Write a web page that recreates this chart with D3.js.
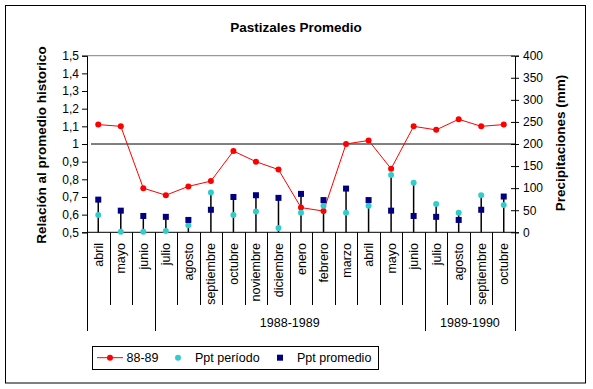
<!DOCTYPE html>
<html>
<head>
<meta charset="utf-8">
<script src="https://cdn.jsdelivr.net/npm/d3@7"></script>
<style>
  body { margin: 0; background: #fff; }
  text { font-family: Arial, "Liberation Sans", sans-serif; }
</style>
</head>
<body>
<script>
const width = 593
const height = 389

const months = ["abril", "mayo", "junio", "julio", "agosto", "septiembre", "octubre", "noviembre", "diciembre",
  "enero", "febrero", "marzo", "abril", "mayo", "junio", "julio", "agosto", "septiembre", "octubre"]
const groups = [{label: "", from: 0, to: 3}, {label: "1988-1989", from: 3, to: 15}, {label: "1989-1990", from: 15, to: 19}]
const relacion = [1.11, 1.10, 0.75, 0.71, 0.76, 0.79, 0.96, 0.90, 0.855, 0.64, 0.62,
  1.0, 1.02, 0.86, 1.10, 1.08, 1.14, 1.10, 1.11]
const pptPeriodo = [39, 1, 1, 3, 16, 90, 39, 47, 10, 44, 60, 44, 60, 130, 112, 64, 44, 84, 62]
const pptPromedio = [74, 49, 37, 35, 28, 51, 80, 84, 78, 87, 73, 99, 73, 49, 37, 35, 28, 51, 81]
const leftTicks = [0.5, 0.6, 0.7, 0.8, 0.9, 1.0, 1.1, 1.2, 1.3, 1.4, 1.5]
const rightTicks = [0, 50, 100, 150, 200, 250, 300, 350, 400]

const plot = {left: 87, right: 515, top: 55.7, bottom: 232.3}

const svg = d3.select("body").append("svg")
    .attr("width", width)
    .attr("height", height)

svg.append("rect")
    .attr("x", 5.5).attr("y", 5.5)
    .attr("width", 580).attr("height", 377.5)
    .attr("fill", "#fff").attr("stroke", "#000")

const x = d3.scaleBand()
    .domain(d3.range(months.length))
    .range([plot.left, plot.right])
    .padding(0)
const yL = d3.scaleLinear().domain([0.5, 1.5]).range([plot.bottom, plot.top])
const yR = d3.scaleLinear().domain([0, 400]).range([plot.bottom, plot.top])
const cx = (i) => x(i) + x.bandwidth() / 2
const fmt = (v) => d3.format("~g")(+v.toFixed(1)).replace(".", ",")

// title
svg.append("text")
    .attr("x", 296).attr("y", 31.5)
    .attr("text-anchor", "middle")
    .attr("font-size", 13.5).attr("font-weight", "bold")
    .text("Pastizales Promedio")

// plot top border
svg.append("line")
    .attr("x1", plot.left).attr("x2", plot.right)
    .attr("y1", plot.top).attr("y2", plot.top)
    .attr("stroke", "#808080")

// left axis
const gl = svg.append("g")
    .attr("transform", `translate(${plot.left},0)`)
    .call(d3.axisLeft(yL).tickValues(leftTicks).tickSize(5).tickPadding(3).tickFormat(fmt))
gl.select(".domain").attr("stroke", "#000")
gl.selectAll("text").attr("font-size", 12).attr("font-family", "Arial, 'Liberation Sans', sans-serif").attr("fill", "#000")

// right axis with crossing ticks
const gr = svg.append("g")
    .attr("transform", `translate(${plot.right},0)`)
    .call(d3.axisRight(yR).tickValues(rightTicks).tickSize(4).tickPadding(4))
gr.selectAll(".tick line").attr("x1", -4)
gr.selectAll("text").attr("font-size", 12).attr("font-family", "Arial, 'Liberation Sans', sans-serif").attr("fill", "#000")

// reference line at 1
svg.append("line")
    .attr("x1", plot.left + 4).attr("x2", plot.right)
    .attr("y1", yL(1)).attr("y2", yL(1))
    .attr("stroke", "#000")

// category axis
svg.append("line")
    .attr("x1", plot.left).attr("x2", plot.right)
    .attr("y1", plot.bottom).attr("y2", plot.bottom)
    .attr("stroke", "#000")

const boundaries = d3.range(months.length + 1)
const groupEdges = new Set(groups.flatMap(g => [g.from, g.to]))
svg.append("g").selectAll("line")
  .data(boundaries)
  .join("line")
    .attr("x1", i => Math.round(i === months.length ? plot.right : x(i)) + 0.5)
    .attr("x2", i => Math.round(i === months.length ? plot.right : x(i)) + 0.5)
    .attr("y1", plot.bottom)
    .attr("y2", i => groupEdges.has(i) ? 331 : 305)
    .attr("stroke", "#000")

svg.append("g").selectAll("text")
  .data(months)
  .join("text")
    .attr("transform", (d, i) => `translate(${cx(i) + 4.5},243) rotate(-90)`)
    .attr("text-anchor", "end")
    .attr("font-size", 12.5)
    .text(d => d)

svg.append("g").selectAll("text")
  .data(groups)
  .join("text")
    .attr("x", g => (x(g.from) + (g.to === months.length ? plot.right : x(g.to))) / 2)
    .attr("y", 327)
    .attr("text-anchor", "middle")
    .attr("font-size", 12.5)
    .text(g => g.label)

// axis titles
svg.append("text")
    .attr("transform", `translate(46,145) rotate(-90)`)
    .attr("text-anchor", "middle")
    .attr("font-size", 13.5).attr("font-weight", "bold")
    .text("Relación al promedio historico")
svg.append("text")
    .attr("transform", `translate(565,143) rotate(-90)`)
    .attr("text-anchor", "middle")
    .attr("font-size", 13.5).attr("font-weight", "bold")
    .text("Precipitaciones (mm)")

// drop lines
svg.append("g").selectAll("line")
  .data(months)
  .join("line")
    .attr("x1", (d, i) => cx(i)).attr("x2", (d, i) => cx(i))
    .attr("y1", (d, i) => yR(Math.max(pptPeriodo[i], pptPromedio[i])))
    .attr("y2", plot.bottom)
    .attr("stroke", "#000").attr("stroke-width", 1.5)

// series
const line = d3.line().x((d, i) => cx(i)).y(d => yL(d))
svg.append("path")
    .datum(relacion)
    .attr("d", line)
    .attr("fill", "none").attr("stroke", "#ff0000").attr("stroke-width", 1)

svg.append("g").selectAll("circle")
  .data(relacion)
  .join("circle")
    .attr("cx", (d, i) => cx(i)).attr("cy", d => yL(d))
    .attr("r", 3).attr("fill", "#ff0000")

svg.append("g").selectAll("circle")
  .data(pptPeriodo)
  .join("circle")
    .attr("cx", (d, i) => cx(i)).attr("cy", d => yR(d))
    .attr("r", 3).attr("fill", "#33cccc")

svg.append("g").selectAll("rect")
  .data(pptPromedio)
  .join("rect")
    .attr("x", (d, i) => cx(i) - 3).attr("y", d => yR(d) - 3)
    .attr("width", 6).attr("height", 6)
    .attr("fill", "#000080")

// legend
const lg = svg.append("g")
lg.append("rect")
    .attr("x", 92.5).attr("y", 346.5)
    .attr("width", 286).attr("height", 23)
    .attr("fill", "#fff").attr("stroke", "#000")
const ly = 357.7
lg.append("line").attr("x1", 97).attr("x2", 123).attr("y1", ly).attr("y2", ly).attr("stroke", "#ff0000")
lg.append("circle").attr("cx", 110).attr("cy", ly).attr("r", 3).attr("fill", "#ff0000")
lg.append("text").attr("x", 126.5).attr("y", 362).attr("font-size", 12.5).text("88-89")
lg.append("circle").attr("cx", 178).attr("cy", ly).attr("r", 3).attr("fill", "#33cccc")
lg.append("text").attr("x", 195).attr("y", 362).attr("font-size", 12.5).text("Ppt período")
lg.append("rect").attr("x", 277).attr("y", ly - 3).attr("width", 6).attr("height", 6).attr("fill", "#000080")
lg.append("text").attr("x", 297).attr("y", 362).attr("font-size", 12.5).text("Ppt promedio")
</script>
</body>
</html>
